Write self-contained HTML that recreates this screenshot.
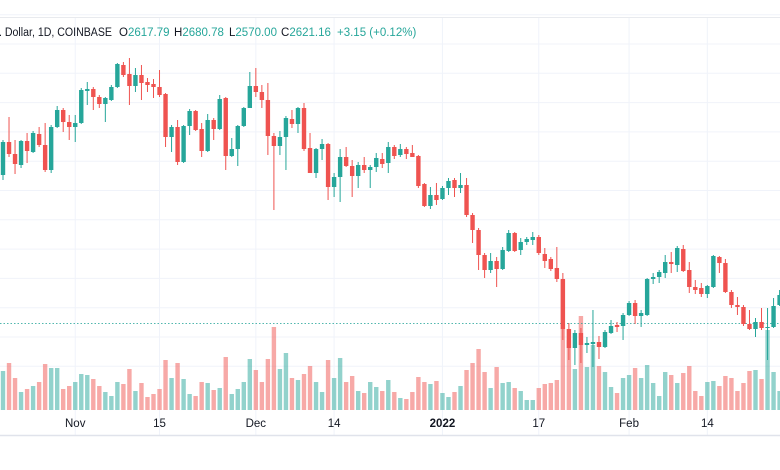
<!DOCTYPE html>
<html><head><meta charset="utf-8"><style>
html,body{margin:0;padding:0;background:#fff;width:780px;height:470px;overflow:hidden}
svg{display:block;font-family:"Liberation Sans",sans-serif}
</style></head><body>
<svg id="chart" width="780" height="470" viewBox="0 0 780 470">
<g id="grid"></g>
<line x1="0" y1="17.5" x2="780" y2="17.5" stroke="#e8eaee"/>
<line x1="0" y1="435.5" x2="780" y2="435.5" stroke="#e0e3eb" stroke-width="1.5"/>
<g id="vol"></g>
<line id="priceLine" x1="0" x2="780" stroke="#26a69a" stroke-dasharray="1.5 2" stroke-width="1" opacity="0.8"/>
<g id="candles"></g>
<g id="xaxis"></g>
<g font-size="11.5" fill="#131722">
<text x="-1" y="36" textLength="113" lengthAdjust="spacingAndGlyphs">. Dollar, 1D, COINBASE</text>
<text x="119" y="36">O<tspan fill="#26a69a">2617.79</tspan></text>
<text x="174" y="36">H<tspan fill="#26a69a">2680.78</tspan></text>
<text x="229" y="36">L<tspan fill="#26a69a">2570.00</tspan></text>
<text x="281" y="36">C<tspan fill="#26a69a">2621.16</tspan></text>
<text x="337" y="36" fill="#26a69a">+3.15 (+0.12%)</text>
</g>
</svg>
<script>
const opens=[225,258,246,235,259,248,266,255,230,273,290,278,273,277,309,311,303,296,300,313,335,326,314,325,318,316,313,306,263,273,238,274,289,271,249,280,271,302,244,251,274,292,314,308,300,264,254,263,281,276,292,252,227,251,256,213,223,243,234,224,235,230,233,241,237,253,245,251,247,244,216,194,205,201,212,220,212,215,185,170,145,130,139,131,149,167,150,158,160,163,146,141,132,121,71,52,67,55,56,58,53,67,75,74,85,97,84,85,121,123,127,138,135,151,130,113,112,106,113,143,137,108,95,93,76,71,78,72,73,95];
const highs=[260,283,260,260,267,269,273,277,275,294,292,285,285,312,318,313,305,303,315,337,338,342,332,335,322,321,330,307,275,280,275,291,290,277,286,282,305,303,262,275,293,328,332,315,317,267,269,284,290,293,297,267,252,261,257,227,251,253,240,238,243,235,247,247,258,255,256,253,255,245,217,213,217,214,222,222,227,222,187,172,147,147,143,153,170,168,162,163,168,165,152,143,153,127,77,70,72,63,90,64,70,80,78,87,99,100,90,122,127,130,145,148,154,155,138,120,117,115,145,144,141,110,103,95,90,82,92,92,102,110];
const lows=[220,243,226,232,237,247,253,228,227,272,268,260,258,276,295,290,292,278,299,312,323,295,308,300,308,302,303,253,248,235,237,265,269,243,248,260,270,230,243,234,273,292,303,292,245,190,245,230,272,267,249,227,222,240,200,203,198,233,203,212,227,212,228,232,227,241,243,241,243,212,193,191,195,200,205,203,207,183,157,130,122,127,113,130,148,148,145,155,155,145,132,129,118,60,40,35,37,47,33,41,52,66,68,60,84,76,73,84,116,117,122,127,128,128,107,106,103,102,112,127,107,92,85,74,70,63,70,40,72,94];
const closes=[258,246,236,259,249,267,255,230,273,290,278,273,277,310,311,303,296,302,313,336,325,314,325,317,315,313,305,263,273,238,274,289,270,249,280,271,301,244,251,274,292,314,308,300,264,254,263,282,276,292,251,227,251,256,213,223,243,234,224,235,230,233,242,236,253,244,251,246,243,214,194,205,200,212,219,212,215,185,170,145,130,139,131,150,167,149,158,161,163,147,139,131,121,71,52,67,55,57,58,53,68,74,73,85,97,84,87,121,123,128,138,136,152,129,113,110,106,114,144,137,108,95,93,76,71,78,72,73,94,105];
const volumes=[39,47,32,18,21,24,28,46,42,42,21,24,28,36,35,31,24,18,14,28,26,41,19,27,13,16,21,50,32,47,31,16,14,28,27,20,22,53,16,21,28,51,40,28,51,83,41,57,32,30,36,44,28,18,50,32,52,28,34,19,17,28,23,19,30,18,12,11,18,33,28,26,29,17,13,18,24,40,47,61,38,22,43,27,28,22,19,10,10,22,26,27,30,130,70,41,94,43,65,44,38,23,17,32,35,42,32,45,27,14,38,35,27,37,44,19,14,28,29,24,34,32,19,27,39,40,31,80,38,19];
const tickIndex=[12,26,42,55,73,89,104,117];
const tickLabels=["Nov","15","Dec","14","2022","17","Feb","14"];
const lastPrice=77;

const NS="http://www.w3.org/2000/svg";
function xScale(i){return 3+6.02*i;}
function yScale(p){return 400-p;}
function vScale(v){return 410-v;}
function mk(tag,attrs,parent){const e=document.createElementNS(NS,tag);for(const k in attrs)e.setAttribute(k,attrs[k]);parent.appendChild(e);return e;}
const G="#26a69a",R="#ef5350";
const grid=document.getElementById('grid');
for(let k=0;k<13;k++){const y=14.7+29.3*k;
 const l=mk('line',{x1:0,x2:780,y1:y,y2:y,stroke:'#f0f3fa','stroke-width':1},grid);
 
 }
const xa=document.getElementById('xaxis');
tickIndex.forEach((ti,j)=>{const x=xScale(ti);
 const l=mk('line',{x1:x,x2:x,y1:18,y2:435,stroke:'#f0f3fa','stroke-width':1},grid);
 
 
 const t=mk('text',{x:x,y:427,'text-anchor':'middle','font-size':'11.5',fill:'#131722','font-weight':tickLabels[j]==='2022'?'bold':'normal'},xa);
 t.textContent=tickLabels[j];
 
 });
const vg=document.getElementById('vol');
volumes.forEach((v,i)=>{const up=closes[i]>=opens[i];
 const r=mk('rect',{x:xScale(i)-2.2,y:vScale(v),width:4.4,height:v,fill:up?G:R,opacity:0.5},vg);
 
 });
const pl=document.getElementById('priceLine');
pl.setAttribute('y1',yScale(lastPrice)+0.5);pl.setAttribute('y2',yScale(lastPrice)+0.5);
const cg=document.getElementById('candles');
opens.forEach((o,i)=>{const c=closes[i],up=c>=o,col=up?G:R,x=xScale(i);
 const w=mk('line',{x1:x,x2:x,y1:yScale(highs[i]),y2:yScale(lows[i]),stroke:col,'stroke-width':1},cg);
 
 
 const top=yScale(Math.max(o,c)),h=Math.max(1,Math.abs(o-c));
 const b=mk('rect',{x:x-2.2,y:top,width:4.4,height:h,fill:col},cg);
 
 });
</script>
</body></html>
